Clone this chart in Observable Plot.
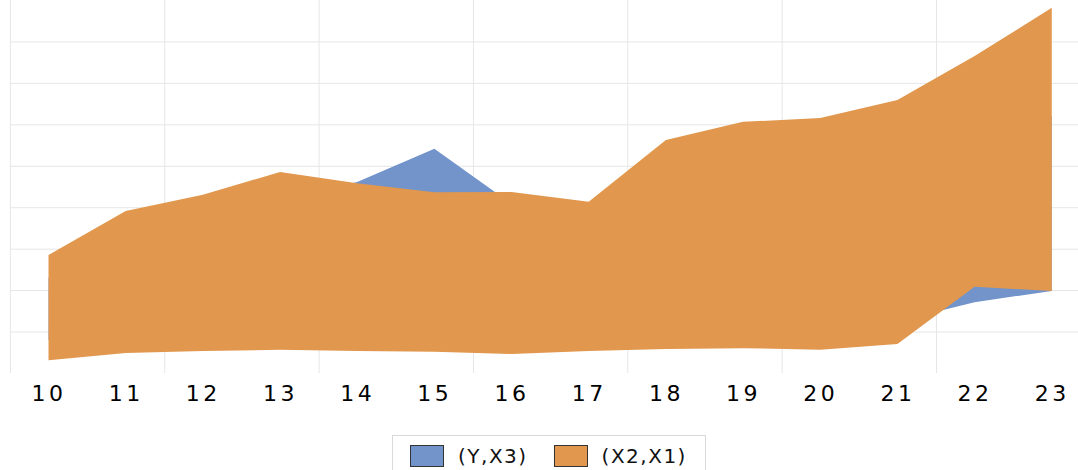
<!DOCTYPE html>
<html>
<head>
<meta charset="utf-8">
<script src="https://cdn.jsdelivr.net/npm/d3@7"></script>
<script src="https://cdn.jsdelivr.net/npm/@observablehq/plot@0.6"></script>
<style>
  html, body { margin: 0; padding: 0; background: #fff; }
  #chart svg text { letter-spacing: 3.5px; }
  #legend {
    margin-left: 392px; width: 314px; height: 40px; margin-top: 20px;
    border: 1px solid #d9d9d9; border-bottom: none; box-sizing: border-box;
    display: flex; align-items: center; font-family: "DejaVu Sans", sans-serif;
    font-size: 20px; letter-spacing: 1.5px; color: #111;
  }
  .sw { width: 34px; height: 22px; border: 1px solid #333; box-sizing: border-box; display: inline-block; }
</style>
</head>
<body>
<div id="chart"></div>
<div id="legend"></div>
<script>
const categories = [10, 11, 12, 13, 14, 15, 16, 17, 18, 19, 20, 21, 22, 23];
const orangeHigh = [2.85, 3.91, 4.30, 4.85, 4.58, 4.36, 4.37, 4.13, 5.62, 6.06, 6.15, 6.59, 7.65, 8.81];
const orangeLow  = [0.31, 0.48, 0.53, 0.56, 0.53, 0.51, 0.46, 0.53, 0.58, 0.60, 0.56, 0.70, 2.08, 1.98];
const blueHigh   = [2.3, 3.0, 3.6, 4.2, 4.61, 5.41, 4.08, 3.8, 4.5, 5.0, 5.2, 5.6, 5.9, 6.2];
const blueLow    = [0.8, 0.9, 0.9, 1.0, 1.0, 1.1, 1.0, 1.1, 1.2, 1.1, 1.2, 1.25, 1.71, 1.98];
const seriesNames = ["(Y,X3)", "(X2,X1)"];
const seriesColors = ["#7294CB", "#E1974D"];
const yGrid = [1, 2, 3, 4, 5, 6, 7, 8];
const xGrid = [9.5, 11.5, 13.5, 15.5, 17.5, 19.5, 21.5];

const blue = categories.map((c, i) => ({x: c, lo: blueLow[i], hi: blueHigh[i]}));
const orange = categories.map((c, i) => ({x: c, lo: orangeLow[i], hi: orangeHigh[i]}));

const xMin = 9.3715, xMax = 23.34;
const chart = Plot.plot({
  width: 1078,
  height: 415,
  marginLeft: 0,
  marginRight: 0,
  marginTop: 0,
  marginBottom: 42,
  style: {fontFamily: "DejaVu Sans, sans-serif", color: "#000", background: "#fff"},
  x: {domain: [xMin, xMax], axis: null},
  y: {domain: [0, 9], axis: null},
  marks: [
    Plot.ruleY(yGrid, {y: d => d, x1: 9.5, x2: xMax, stroke: "#e6e6e6", strokeWidth: 1}),
    Plot.ruleX(xGrid, {x: d => d, y1: 0, y2: 9, stroke: "#e6e6e6", strokeWidth: 1}),
    Plot.areaY(blue, {x: "x", y1: "lo", y2: "hi", fill: seriesColors[0]}),
    Plot.areaY(orange, {x: "x", y1: "lo", y2: "hi", fill: seriesColors[1]}),
    Plot.axisX(categories, {tickSize: 0, tickPadding: 12, fontSize: 22, label: null, tickFormat: d => String(d), fill: "#000"})
  ]
});
document.getElementById("chart").appendChild(chart);

const legend = document.getElementById("legend");
seriesNames.forEach((name, i) => {
  const sw = document.createElement("span");
  sw.className = "sw";
  sw.style.background = seriesColors[i];
  sw.style.marginLeft = i === 0 ? "17px" : "26px";
  const t = document.createElement("span");
  t.textContent = name;
  t.style.marginLeft = "14px";
  legend.appendChild(sw);
  legend.appendChild(t);
});
</script>
</body>
</html>
